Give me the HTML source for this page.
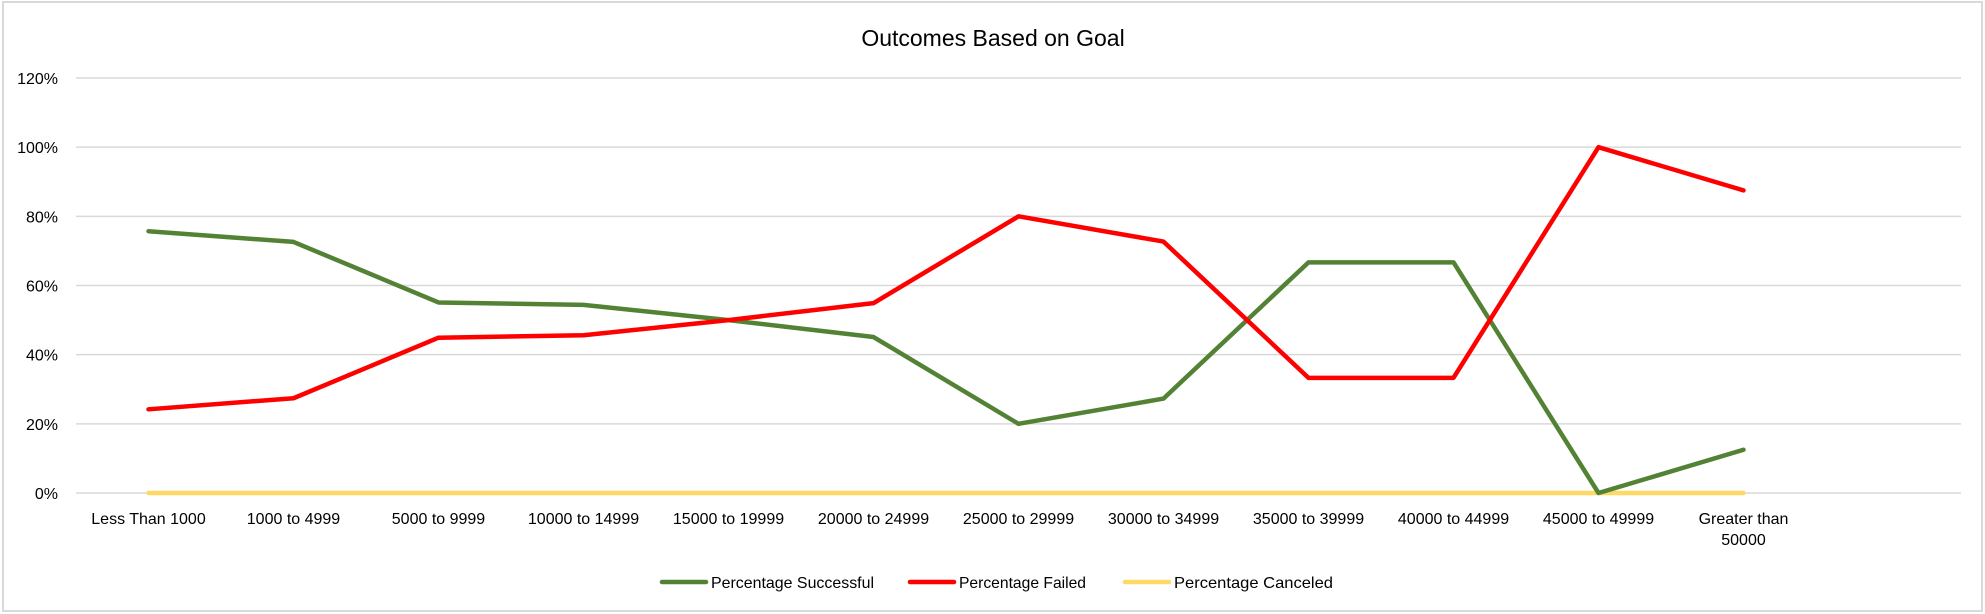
<!DOCTYPE html>
<html><head><meta charset="utf-8"><style>
body{margin:0;background:#fff}
svg{display:block;font-family:"Liberation Sans",sans-serif}
</style></head><body>
<svg id="c" width="1985" height="614">
<rect x="3" y="2" width="1979" height="609" fill="#fff" stroke="#d9d9d9" stroke-width="2"/>
<text x="993" y="46" font-size="23" text-anchor="middle" fill="#000">Outcomes Based on Goal</text>
<g id="grid"></g><g id="series"></g><g id="legend"></g>
</svg>
<script>
const categories=["Less Than 1000","1000 to 4999","5000 to 9999","10000 to 14999","15000 to 19999","20000 to 24999","25000 to 29999","30000 to 34999","35000 to 39999","40000 to 44999","45000 to 49999","Greater than|50000"];
const successful=[75.7,72.6,55.1,54.4,50,45.1,20,27.3,66.7,66.7,0,12.5];
const failed=[24.2,27.4,44.9,45.6,50,54.9,80,72.7,33.3,33.3,100,87.5];
const canceled=[0,0,0,0,0,0,0,0,0,0,0,0];
const yTicks=[0,20,40,60,80,100,120];
const NS="http://www.w3.org/2000/svg";
const x0=76,x1=1961,slots=13,yBase=493,yTop=78,yMax=120;
const xs=i=>x0+(i+0.5)*(x1-x0)/slots;
const ys=v=>yBase-(v/yMax)*(yBase-yTop);
function mk(t,a,p){const e=document.createElementNS(NS,t);for(const k in a)e.setAttribute(k,a[k]);p.appendChild(e);return e;}
const grid=document.getElementById('grid');
yTicks.forEach(t=>{
 const l=mk('line',{x1:x0,x2:x1,y1:ys(t),y2:ys(t),stroke:'#d9d9d9','stroke-width':1.5},grid);
 
 
 const tx=mk('text',{x:58,y:ys(t)+6,'font-size':16,'text-anchor':'end',fill:'#000'},grid);
 tx.textContent=t+'%';
 
 
});
categories.forEach((c,i)=>{
 const parts=c.split('|');
 parts.forEach((p,j)=>{
  const tx=mk('text',{x:xs(i),y:524+j*21,'font-size':16,'text-anchor':'middle',fill:'#000'},grid);
  tx.textContent=p;
  
  
 });
});
const ser=document.getElementById('series');
const defs=[[canceled,'#ffd966','line-canceled'],[successful,'#548235','line-successful'],[failed,'#ff0000','line-failed']];
defs.forEach(([d,col,n])=>{
 const pts=d.map((v,i)=>xs(i)+','+ys(v)).join(' ');
 const pl=mk('polyline',{points:pts,fill:'none',stroke:col,'stroke-width':4.5,'stroke-linejoin':'round','stroke-linecap':'round'},ser);
 
 
});
const leg=document.getElementById('legend');
const items=[['Percentage Successful','#548235',661,163],['Percentage Failed','#ff0000',909,127],['Percentage Canceled','#ffd966',1124,159]];
items.forEach(([t,col,x,w])=>{
 const g=mk('g',{},leg);
 
 
 mk('line',{x1:x+1,x2:x+45,y1:582,y2:582,stroke:col,'stroke-width':4.5,'stroke-linecap':'round'},g);
 const tx=mk('text',{x:x+50,y:588,'font-size':16,fill:'#000',textLength:w,lengthAdjust:'spacingAndGlyphs'},g);
 tx.textContent=t;
});
</script>
</body></html>
